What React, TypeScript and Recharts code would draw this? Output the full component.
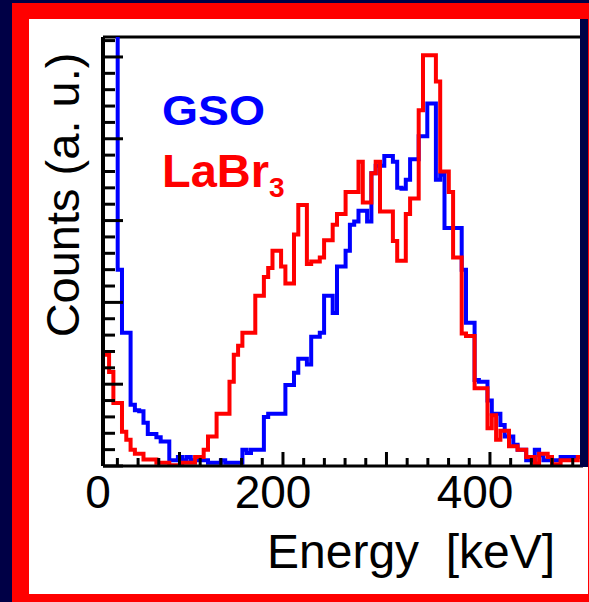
import React from 'react';
import { LineChart, Line, XAxis, YAxis, ReferenceLine } from 'recharts';

// counts per bin (a. u.)
const gsoCounts = [
  600, 600, 600, 600, 240, 163, 163, 75, 68, 67,
  53, 39, 39, 35, 30, 30, 7, 7, 11, 7,
  11, 7, 7, 7, 7, 4, 4, 4, 7, 4,
  4, 4, 4, 20, 16, 20, 20, 20, 60, 64,
  64, 64, 64, 99, 99, 114, 131, 131, 124, 158,
  158, 163, 208, 208, 187, 244, 244, 263, 295, 299,
  312, 312, 299, 358, 367, 367, 379, 379, 372, 340,
  339, 350, 375, 375, 403, 403, 443, 443, 350, 356,
  291, 291, 291, 291, 240, 175, 175, 105, 103, 103,
  80, 64, 64, 50, 36, 36, 26, 20, 20, 7,
  7, 20, 13, 7, 7, 7, 7, 11, 11, 11,
  11, 11,
];

const labrCounts = [
  136, 136, 115, 77, 77, 42, 32, 20, 15, 15,
  8, 8, 8, 4, 4, 4, 1, 1, 1, 4,
  4, 4, 11, 11, 20, 36, 36, 64, 64, 64,
  103, 136, 147, 163, 163, 163, 208, 208, 231, 242,
  263, 263, 244, 223, 223, 283, 319, 319, 247, 250,
  250, 255, 276, 276, 295, 308, 308, 335, 335, 335,
  372, 322, 322, 358, 372, 311, 311, 311, 275, 251,
  251, 308, 327, 327, 435, 502, 502, 502, 470, 360,
  360, 335, 255, 255, 162, 159, 159, 95, 95, 95,
  46, 62, 32, 43, 43, 24, 24, 20, 20, 11,
  11, 3, 15, 15, 11, 2, 2, 7, 7, 7,
  7, 11,
];

const xTickLabels = ['0', '200', '400'];

const E_START = 23.67; // keV, lower edge of the first bin
const BIN_WIDTH = 4.155; // keV
const X_MIN = 26.1;
const X_MAX = 489.9;
const Y_MAX = 524.4;

const PLOT_LEFT = 103;
const PLOT_BOTTOM = 466;
const FONT = '"Liberation Sans", Arial, Helvetica, sans-serif';

const xTicks: number[] = [];
for (let v = 40; v <= 480; v += 20) xTicks.push(v);
const yTicks: number[] = [];
for (let v = 0; v <= 520; v += 20) yTicks.push(v);

const data = gsoCounts.map((g, i) => ({
  energy: E_START + i * BIN_WIDTH,
  gso: g,
  labr: labrCounts[i],
}));
// closing edge so the last bin gets its step
data.push({
  energy: E_START + gsoCounts.length * BIN_WIDTH,
  gso: gsoCounts[gsoCounts.length - 1],
  labr: labrCounts[labrCounts.length - 1],
});

function XTick(props: any) {
  const { x, payload } = props;
  const len = payload.value % 100 === 0 ? 14 : 8;
  return (
    <line x1={x} x2={x} y1={PLOT_BOTTOM} y2={PLOT_BOTTOM - len} stroke="#000" strokeWidth={3} />
  );
}

function YTick(props: any) {
  const { y, payload } = props;
  const len = payload.value % 100 === 0 ? 20 : 12;
  return (
    <line x1={PLOT_LEFT} x2={PLOT_LEFT + len} y1={y} y2={y} stroke="#000" strokeWidth={3} />
  );
}

const labelX = [98, 273, 475];

export default function App() {
  return (
    <div style={{ position: 'fixed', left: 0, top: 0, width: 589, height: 602, background: '#000046', overflow: 'hidden' }}>
      <div style={{ position: 'absolute', left: 12, top: 3, width: 580, height: 602, background: '#ff0000' }} />
      <div style={{ position: 'absolute', left: 29, top: 19, width: 559, height: 575, background: '#ffffff' }} />
      <div style={{ position: 'absolute', left: 0, top: 0 }}>
        <LineChart
          width={589}
          height={602}
          data={data}
          margin={{ top: 37, right: 6, bottom: 135, left: 102 }}
        >
          <XAxis
            dataKey="energy"
            type="number"
            domain={[X_MIN, X_MAX]}
            allowDataOverflow
            ticks={xTicks}
            interval={0}
            height={1}
            tickLine={false}
            axisLine={{ stroke: '#000', strokeWidth: 3 }}
            tick={(p: any) => <XTick key={p.index} {...p} />}
          />
          <YAxis
            type="number"
            domain={[0, Y_MAX]}
            allowDataOverflow
            ticks={yTicks}
            interval={0}
            width={1}
            tickLine={false}
            axisLine={{ stroke: '#000', strokeWidth: 4 }}
            tick={(p: any) => <YTick key={p.index} {...p} />}
          />
          <ReferenceLine y={Y_MAX} stroke="#000" strokeWidth={3} />
          <Line
            type="stepAfter"
            dataKey="gso"
            stroke="#0000ff"
            strokeWidth={4}
            dot={false}
            isAnimationActive={false}
          />
          <Line
            type="stepAfter"
            dataKey="labr"
            stroke="#ff0000"
            strokeWidth={4}
            dot={false}
            isAnimationActive={false}
          />
        </LineChart>
      </div>
      <div style={{ position: 'absolute', left: 580, top: 19, width: 8, height: 448, background: '#000046' }} />
      <svg width={589} height={602} style={{ position: 'absolute', left: 0, top: 0, pointerEvents: 'none' }}>
        <g fontFamily={FONT}>
          {xTickLabels.map((t, i) => (
            <text key={t} x={labelX[i]} y={508} textAnchor="middle" fontSize={46} fill="#000">
              {t}
            </text>
          ))}
          <text x={267} y={568} fontSize={48} fill="#000" style={{ whiteSpace: 'pre' }}>
            Energy  [keV]
          </text>
          <text transform="translate(79,195) rotate(-90)" textAnchor="middle" fontSize={47} fill="#000">
            Counts (a. u.)
          </text>
          <text x={162} y={125} fontSize={42} fontWeight="bold" fill="#0000ff" textLength={103} lengthAdjust="spacingAndGlyphs">
            GSO
          </text>
          <text x={162} y={187} fontSize={47} fontWeight="bold" fill="#ff0000">
            LaBr<tspan fontSize={28} dy={10}>3</tspan>
          </text>
        </g>
      </svg>
    </div>
  );
}
